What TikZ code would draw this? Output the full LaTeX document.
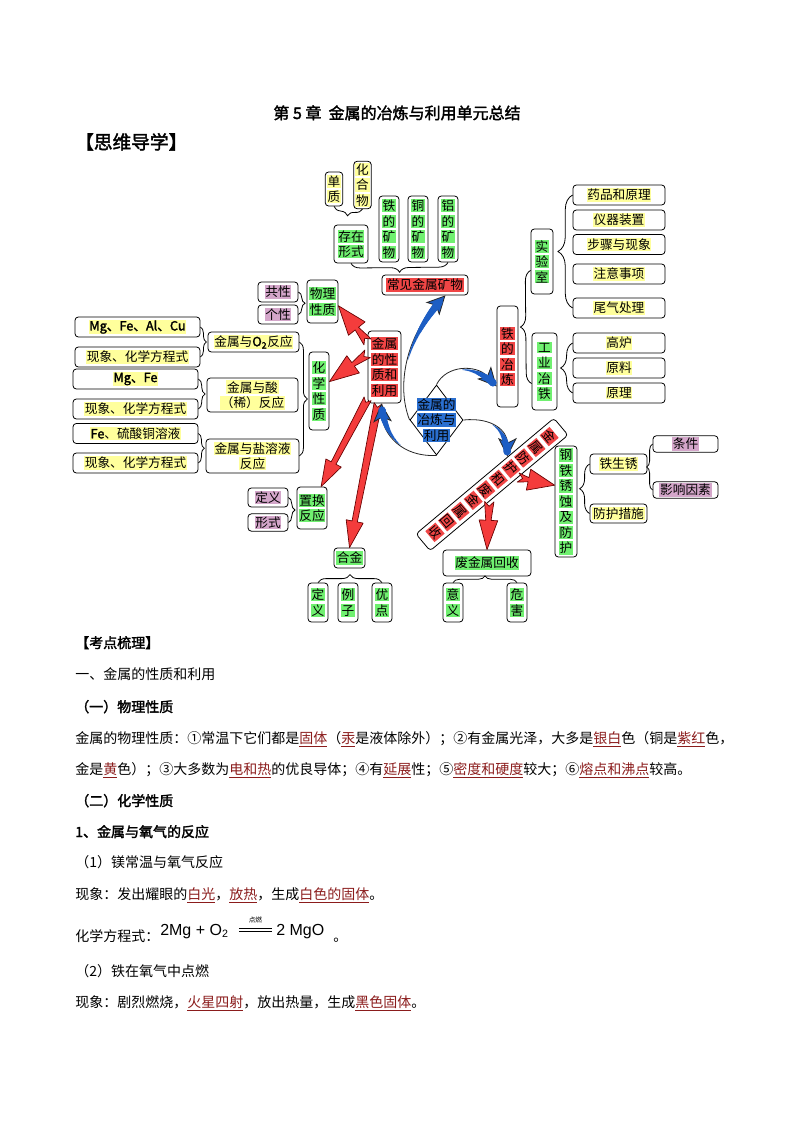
\documentclass[tikz,border=0pt]{standalone}
\usepackage{fontspec}
\setmainfont{Noto Sans CJK SC}[AutoFakeBold=2]
\newfontfamily\eqfont{Liberation Sans}
\usetikzlibrary{positioning, calc, shapes.geometric, arrows.meta,
  decorations.pathreplacing, decorations.markings}
\definecolor{mapgreen}{HTML}{70F070}
\definecolor{mapyellow}{HTML}{FFFF9C}
\definecolor{mappurple}{HTML}{D4A6CA}
\definecolor{mapred}{HTML}{F04545}
\definecolor{mapblue}{HTML}{2A6FD0}
\definecolor{arrowred}{HTML}{F43C3C}
\definecolor{arrowblue}{HTML}{1D5EC4}
\definecolor{kwred}{HTML}{8B1C1C}
\setlength{\fboxsep}{0.6pt}
\newcommand{\mapfont}{\fontsize{9.5pt}{11.6pt}\selectfont}
\newcommand{\bodyfont}{\fontsize{10.5pt}{13pt}\selectfont}
\newcommand{\hlG}[1]{\colorbox{mapgreen}{#1}}
\newcommand{\hlY}[1]{\colorbox{mapyellow}{#1}}
\newcommand{\hlP}[1]{\colorbox{mappurple}{#1}}
\newcommand{\hlR}[1]{\colorbox{mapred}{#1}}
\newcommand{\hlB}[1]{\colorbox{mapblue}{#1}}
\newcommand{\kw}[1]{{\color{kwred}\underline{#1}}}
\ExplSyntaxOn
\NewDocumentCommand{\vtxt}{mm}{
  \seq_clear:N \l_tmpa_seq
  \tl_map_inline:nn {#2} { \seq_put_right:Nn \l_tmpa_seq { \colorbox{#1}{##1} } }
  \seq_use:Nn \l_tmpa_seq { \\ }
}
\ExplSyntaxOff
\NewDocumentCommand{\fatarrow}{mmmmmm}{%
  \coordinate (fa-h) at ($(#2)!#6!(#1)$);
  \filldraw[fatarr]
    ($(#1)!#3!90:(#2)$) -- ($(fa-h)!#4!90:(#2)$) -- ($(fa-h)!#5!90:(#2)$)
    -- (#2) -- ($(fa-h)!#5!-90:(#2)$) -- ($(fa-h)!#4!-90:(#2)$)
    -- ($(#1)!#3!-90:(#2)$) -- ($(#1)!#3!(#2)$) -- cycle;
}
\tikzset{
	mapbox/.style={
			draw=black,
			line width=0.6pt,
			rounded corners=2.5pt,
			fill=white,
			inner sep=1.2pt,
			align=center,
			font=\mapfont
		},
	vbox/.style={mapbox, minimum width=15pt, minimum height=49.5pt},
	sbox/.style={mapbox, minimum width=15pt, minimum height=29.25pt},
	lbox/.style={mapbox, minimum width=93.75pt, minimum height=15pt},
	rbox/.style={mapbox, minimum width=69pt, minimum height=15pt},
	brc/.style={
			decorate,
			decoration={brace, amplitude=#1},
			draw=black,
			line width=0.6pt
		},
	brc/.default=5pt,
	fatarr/.style={
			fill=arrowred,
			draw=black!60!red,
			line width=0.5pt,
			line join=round
		},
	bluearr/.style={
			draw=black!85,
			line width=0.6pt,
			-{Stealth[length=14pt, width=14pt, inset=3.5pt, fill=arrowblue]},
			postaction={decorate, decoration={markings,
				mark=between positions 0.45 and 0.93 step 0.7pt with {
					\pgfmathsetmacro{\tapr}{0.3+2.6*((\pgfkeysvalueof{/pgf/decoration/mark info/distance from start})/(\pgfdecoratedpathlength)-0.45)/0.48}
					\fill[arrowblue] (0,0) circle (\tapr pt);}}}
		},
	bodytxt/.style={anchor=base west, inner sep=0pt, font=\bodyfont}
}
\begin{document}
\begin{tikzpicture}[x=0.75pt, y=-0.75pt]
\useasboundingbox (0,0) rectangle (794,1123);
\fill[white] (0,0) rectangle (794,1123);

\node[anchor=base, inner sep=0pt, font=\fontsize{12pt}{14pt}\selectfont\bfseries] (title) at (397,119) {第 5 章 \ 金属的冶炼与利用单元总结};
\node[bodytxt, font=\fontsize{14pt}{16pt}\selectfont\bfseries] (swdx) at (75,149) {【思维导学】};

% existence of ores
\node[mapbox, minimum width=12pt, minimum height=25.5pt] (dz) at (334,189) {\vtxt{mapyellow}{单质}};
\node[mapbox, minimum width=12.75pt, minimum height=33pt] (hhw) at (362.5,185) {\vtxt{mapyellow}{化合物}};
\node[mapbox, minimum width=25.5pt, minimum height=28.5pt] (czxs) at (351,244) {\hlG{存在}\\\hlG{形式}};
\node[vbox] (tkw) at (389,229) {\vtxt{mapgreen}{铁的矿物}};
\node[vbox] (tongkw) at (418,229) {\vtxt{mapgreen}{铜的矿物}};
\node[vbox] (lkw) at (448,229) {\vtxt{mapgreen}{铝的矿物}};
\node[mapbox, minimum width=64.5pt, minimum height=15pt] (cjkw) at (425,285) {\hlR{常见金属矿物}};

% properties
\node[mapbox, minimum width=30pt, minimum height=15pt] (gx) at (278,292) {\hlP{共性}};
\node[mapbox, minimum width=30pt, minimum height=14.25pt] (gex) at (278,314.5) {\hlP{个性}};
\node[mapbox, minimum width=23.25pt, minimum height=32.25pt] (wl) at (322.5,301.5) {\hlG{物理}\\\hlG{性质}};
\node[lbox] (o1) at (137.5,327) {\hlY{\textbf{Mg、Fe、Al、Cu}}};
\node[lbox] (o2) at (137.5,357) {\hlY{现象、化学方程式}};
\node[mapbox, minimum width=68.25pt, minimum height=15pt] (ro) at (253.5,342) {\hlY{金属与\textbf{O\textsubscript{2}}反应}};
\node[lbox] (a1) at (135.5,379) {\hlY{\textbf{Mg、Fe}}};
\node[lbox] (a2) at (135.5,409) {\hlY{现象、化学方程式}};
\node[mapbox, minimum width=68.25pt, minimum height=25.5pt] (ra) at (252.5,395) {\hlY{金属与酸}\\\hlY{（稀）反应}};
\node[lbox] (s1) at (135.5,433.5) {\hlY{\textbf{Fe}、硫酸铜溶液}};
\node[lbox] (s2) at (135.5,463) {\hlY{现象、化学方程式}};
\node[mapbox, minimum width=69.75pt, minimum height=25.5pt] (rs) at (252.5,456) {\hlY{金属与盐溶液}\\\hlY{反应}};
\node[mapbox, minimum width=15pt, minimum height=58.5pt] (hx) at (319,391) {\vtxt{mapgreen}{化学性质}};
\node[mapbox, minimum width=24.75pt, minimum height=54pt] (jx) at (384.5,367) {\hlR{金属}\\\hlR{的性}\\\hlR{质和}\\\hlR{利用}};

% centre
\node[diamond, draw=black, line width=0.6pt, fill=white, minimum width=39.75pt, minimum height=52.5pt, inner sep=0pt] (dm) at (436.5,420) {};
\node[font=\mapfont, align=center, inner sep=0pt] (dmt) at (dm.center) {\hlB{金属的}\\\hlB{冶炼与}\\\hlB{利用}};

% iron making
\node[mapbox, minimum width=15.75pt, minimum height=75.75pt] (ty) at (507.5,356.5) {\vtxt{mapred}{铁的冶炼}};
\node[mapbox, minimum width=16.5pt, minimum height=48.75pt] (syz) at (542,261.5) {\vtxt{mapgreen}{实验室}};
\node[mapbox, minimum width=18.75pt, minimum height=57.75pt] (gy) at (544.5,371.5) {\vtxt{mapgreen}{工业冶铁}};
\node[rbox] (yp) at (619,195) {\hlY{药品和原理}};
\node[rbox] (yq) at (619,220) {\hlY{仪器装置}};
\node[rbox] (bz) at (619,244.5) {\hlY{步骤与现象}};
\node[rbox] (zy) at (619,274) {\hlY{注意事项}};
\node[rbox] (wq) at (619,308) {\hlY{尾气处理}};
\node[rbox] (gl) at (619,343) {\hlY{高炉}};
\node[rbox] (yl) at (619,368) {\hlY{原料}};
\node[rbox] (yli) at (619,393) {\hlY{原理}};

% corrosion
\node[mapbox, minimum width=16.5pt, minimum height=83.25pt] (gt) at (566,501.5) {\vtxt{mapgreen}{钢铁锈蚀及防护}};
\node[mapbox, minimum width=42.75pt, minimum height=15pt] (ts) at (618.5,464) {\hlY{铁生锈}};
\node[mapbox, minimum width=42.75pt, minimum height=14.25pt] (fh) at (618.5,513.5) {\hlY{防护措施}};
\node[mapbox, minimum width=48.75pt, minimum height=12pt] (tj) at (685.5,444) {\hlP{条件}};
\node[mapbox, minimum width=48.75pt, minimum height=12pt] (yx) at (685.5,490) {\hlP{影响因素}};
\node[mapbox, rotate=-50, font=\fontsize{9.5pt}{12.4pt}\selectfont, minimum width=16.5pt, minimum height=135pt] (fs) at (492,484.5) {\vtxt{mapred}{金属防护和废金属回收}};

% bottom
\node[mapbox, minimum width=22.5pt, minimum height=31.5pt] (zh) at (312,508) {\hlG{置换}\\\hlG{反应}};
\node[mapbox, minimum width=30pt, minimum height=14.25pt] (dy) at (268,497.5) {\hlP{定义}};
\node[mapbox, minimum width=30pt, minimum height=13pt] (xs) at (268,522.5) {\hlP{形式}};
\node[mapbox, minimum width=23.25pt, minimum height=15pt] (hj) at (349.5,558) {\hlG{合金}};
\node[sbox] (hd) at (318,602.5) {\vtxt{mapgreen}{定义}};
\node[sbox] (lz) at (348,602.5) {\vtxt{mapgreen}{例子}};
\node[sbox] (yd) at (382,602.5) {\vtxt{mapgreen}{优点}};
\node[mapbox, minimum width=66pt, minimum height=19.5pt] (fj) at (487,563) {\hlG{废金属回收}};
\node[sbox] (yy) at (453,602.5) {\vtxt{mapgreen}{意义}};
\node[sbox] (wh) at (517,602.5) {\vtxt{mapgreen}{危害}};

% braces
\draw[brc=6pt] (hhw.south) -- (dz.south);
\draw[brc=7pt] (lkw.south) -- (czxs.south);
\draw[brc=5pt] (gx.east) -- (gex.east);
\draw[brc=4.5pt] (o1.east) -- (o2.east);
\draw[brc=5pt] (a1.east) -- (a2.east);
\draw[brc=4.5pt] (s1.east) -- (s2.east);
\draw[brc=6pt] (ro.east) -- (rs.east);
\draw[brc=5pt] (dy.east) -- (xs.east);
\draw[brc=11pt] (wq.west) -- (yp.west);
\draw[brc=9pt] (yli.west) -- (gl.west);
\draw[brc=8pt] (gy.-137) -- (syz.-142);
\draw[brc=7.5pt] (fh.west) -- (ts.west);
\draw[brc=4.5pt] (yx.west) -- (tj.west);
\draw[brc=6pt] (hd.north) -- (yd.north);
\draw[brc=5pt] (yy.north) -- (wh.north);

% arrows
\fatarrow{jx.124}{wl.-15}{3.5pt}{1.6pt}{8pt}{22pt}
\fatarrow{jx.142}{hx.42}{3.5pt}{1.6pt}{8pt}{22pt}
\fatarrow{jx.-118}{zh.67}{3pt}{2pt}{6.5pt}{20pt}
\fatarrow{jx.-100}{hj.north}{3pt}{2pt}{6.5pt}{20pt}
\fatarrow{fs.65}{gt.125}{3.5pt}{1.6pt}{8pt}{20pt}
\fatarrow{fs.-49}{fj.north}{3.5pt}{2pt}{7pt}{22pt}

\draw[bluearr] (dm.west) .. controls +(-14,-35) and +(-38,40) .. (cjkw.-27);
\draw[bluearr] (dm.north) .. controls +(10,-20) and +(-20,-22) .. (ty.-110);
\draw[bluearr] (dm.east) .. controls +(30,-3) and +(0,-25) .. (fs.111);
\draw[bluearr] (dm.south) .. controls +(-35,2) and +(2,30) .. (jx.-95);

% text part
\node[bodytxt, font=\bodyfont\bfseries] (kdsl) at (75,648) {【考点梳理】};
\node[bodytxt] (xz) at (75,679) {一、金属的性质和利用};
\node[bodytxt, font=\bodyfont\bfseries] (wlxz) at (75,712) {（一）物理性质};
\node[bodytxt] (wl1) at (75,743) {金属的物理性质：①常温下它们都是\kw{固体}（\kw{汞}是液体除外）；②有金属光泽，大多是\kw{银白}色（铜是\kw{紫红}色，};
\node[bodytxt] (wl2) at (75,774) {金是\kw{黄}色）；③大多数为\kw{电和热}的优良导体；④有\kw{延展}性；⑤\kw{密度和硬度}较大；⑥\kw{熔点和沸点}较高。};
\node[bodytxt, font=\bodyfont\bfseries] (hxxz) at (75,806) {（二）化学性质};
\node[bodytxt, font=\bodyfont\bfseries] (yq1) at (75,837) {1、金属与氧气的反应};
\node[bodytxt] (mg0) at (75,867) {（1）镁常温与氧气反应};
\node[bodytxt] (mg1) at (75,899) {现象：发出耀眼的\kw{白光}，\kw{放热}，生成\kw{白色的固体}。};
\node[bodytxt] (mg2) at (75,941) {化学方程式：};
\node[bodytxt, font=\eqfont\fontsize{12pt}{14pt}\selectfont] (eqL) at (160,935) {2Mg + O\textsubscript{2}};
\node[bodytxt, font=\eqfont\fontsize{12pt}{14pt}\selectfont] (eqR) at (276,935) {2 MgO};
\draw[line width=0.5pt, double distance=2pt] ($(eqL.base east)+(10,-5)$) -- ($(eqR.base west)+(-4,-5)$);
\node[font=\fontsize{5pt}{5pt}\selectfont, inner sep=0pt] (dr) at ($(eqL.base east)!0.5!(eqR.base west)+(3,-15)$) {点燃};
\node[bodytxt] (mgd) at (333,941) {。};
\node[bodytxt] (fe0) at (75,976) {（2）铁在氧气中点燃};
\node[bodytxt] (fe1) at (75,1007) {现象：剧烈燃烧，\kw{火星四射}，放出热量，生成\kw{黑色固体}。};

\end{tikzpicture}
\end{document}
